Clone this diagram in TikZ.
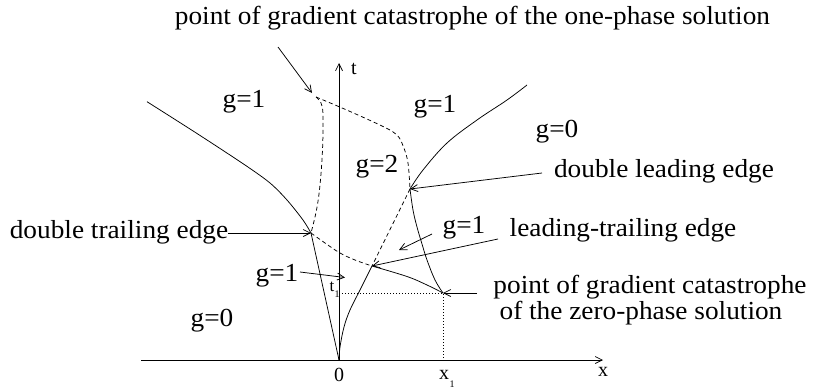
\documentclass[tikz,border=0pt]{standalone}
\usepackage{fontspec}
\setmainfont{Liberation Serif}
\newfontfamily\labfont[FakeStretch=1.05]{Liberation Serif}
\usetikzlibrary{arrows.meta}
\begin{document}
\begin{tikzpicture}[x=1pt,y=-1pt,line width=0.75pt,
  lab/.style={inner sep=0pt,font=\labfont\fontsize{26}{30}\selectfont},
  small/.style={inner sep=0pt,font=\fontsize{20}{24}\selectfont},
  tiny/.style={inner sep=0pt,font=\fontsize{10}{12}\selectfont},
  dsh/.style={dash pattern=on 4pt off 3pt},
  dot/.style={dash pattern=on 1pt off 2pt},
  arr/.style={-{Straight Barb[length=7pt,width=7pt]}}]
\useasboundingbox (0,0) rectangle (814,391);
% key points
\coordinate (O) at (339,360);
\coordinate (P) at (316,97);
\coordinate (D) at (311,233);
\coordinate (E) at (410,189);
\coordinate (L) at (372,266);
\coordinate (C) at (443,293);
\coordinate (T1) at (339,293);
\coordinate (X1) at (443,360);
\coordinate (xs) at (141,360);
\coordinate (xe) at (603,360);
\coordinate (te) at (339,63);
% axes
\draw[arr] (xs) -- (xe);
\draw[arr] (O) -- (te);
\node[small] (tl) at (354,69) {t};
\node[small] (xl) at (603,372) {x};
\node[small] (zl) at (339,375) {0};
\node[small] (x1l) at (444,375) {x};
\node[tiny] (x1s) at (452,384) {1};
\node[small,font=\fontsize{17}{20}\selectfont] (t1l) at (332,287) {t};
\node[tiny] (t1s) at (337,294) {1};
% dotted
\draw[dot] (T1) -- (C) -- (X1);
% solid curves
\draw plot[smooth,tension=0.5] coordinates {(147,101.7) (197,133.5) (245,165) (270,183) (287,200) (303,220) (311,233)};
\draw (D) -- (O);
\draw plot[smooth,tension=0.6] coordinates {(372,266) (360,290) (350,310) (344,327) (340,347) (339,360)};
\draw plot[smooth,tension=0.6] coordinates {(372,266) (407,276.5) (427,285) (443,293)};
\draw plot[smooth,tension=0.6] coordinates {(410,189) (413,210) (417,227) (422,244) (427,260) (435,280) (443,293)};
\draw plot[smooth,tension=0.6] coordinates {(410,189) (423,170) (447,143) (477,120) (507,100) (527,85)};
% dashed curves
\draw[dsh] plot[smooth,tension=0.6] coordinates {(316,97) (321,103) (323,115) (322.5,150) (320,185) (316.5,210) (311,233)};
\draw[dsh] plot[smooth,tension=0.6] coordinates {(316,97) (346.7,110) (383,126.5) (397,135) (403.5,147) (408,163) (410,189)};
\draw[dsh] (E) -- (L);
\draw[dsh] plot[smooth,tension=0.6] coordinates {(311,233) (325,243) (340,253) (355,260) (372,266)};
% labels
\node[lab] (top) at (472.5,18) {point of gradient catastrophe of the one-phase solution};
\node[lab] (g1a) at (244,102) {g=1};
\node[lab] (g1b) at (435,107) {g=1};
\node[lab] (g0a) at (557,132) {g=0};
\node[lab] (g2) at (377,167) {g=2};
\node[lab] (dle) at (664,171) {double leading edge};
\node[lab] (dte) at (119,232.5) {double trailing edge};
\node[lab] (g1c) at (464,228) {g=1};
\node[lab] (lte) at (623,230) {leading-trailing edge};
\node[lab] (pgc) at (650,287) {point of gradient catastrophe};
\node[lab] (zps) at (641,313) {of the zero-phase solution};
\node[lab] (g1d) at (277,276) {g=1};
\node[lab] (g0b) at (212,321) {g=0};
% arrow tails
\coordinate (a1) at (278,47);
\coordinate (a2) at (542,173);
\coordinate (a3) at (498,239);
\coordinate (a4) at (432,234);
\coordinate (a4e) at (399,250);
\coordinate (a5) at (477,293);
\coordinate (a6) at (228,233);
\coordinate (a7) at (300,272);
\coordinate (a7e) at (345,277.5);
% arrows
\draw[arr] (a1) -- (312,93);
\draw[arr] (a2) -- (E);
\draw[arr] (a3) -- (L);
\draw[arr] (a4) -- (a4e);
\draw[arr] (a5) -- (C);
\draw[arr] (a6) -- (D);
\draw[arr] (a7) -- (a7e);
\end{tikzpicture}
\end{document}
